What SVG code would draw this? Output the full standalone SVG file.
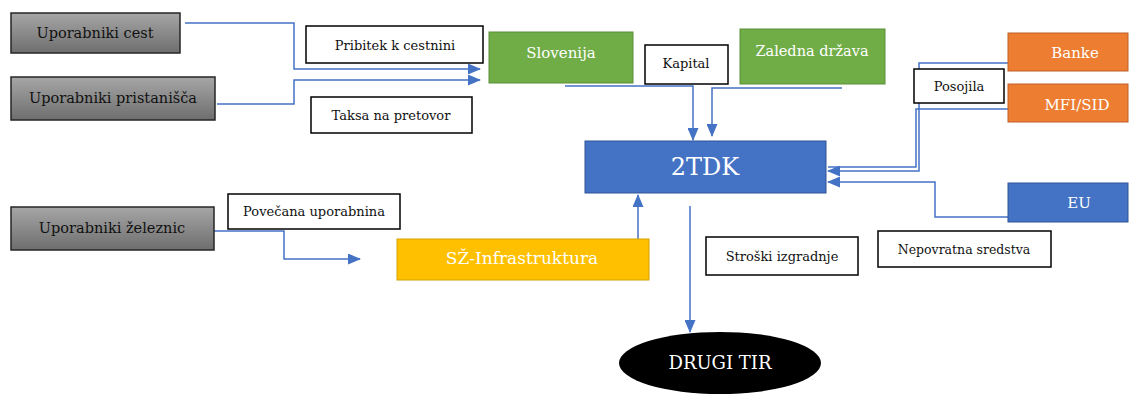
<svg xmlns="http://www.w3.org/2000/svg" width="1138" height="396" viewBox="0 0 1138 396">
<defs>
<linearGradient id="gray" x1="0" y1="0" x2="0" y2="1">
<stop offset="0" stop-color="#a6a6a6"/>
<stop offset="1" stop-color="#6e6e6e"/>
</linearGradient>
<marker id="arr" markerUnits="userSpaceOnUse" markerWidth="13" markerHeight="11" refX="12" refY="5.5" orient="auto">
<path d="M0,0 L13,5.5 L0,11 Z" fill="#4472C4"/>
</marker>
</defs>
<style>
.user{fill:url(#gray);stroke:#262626;stroke-width:1.5}
.lbl{fill:#fff;stroke:#000;stroke-width:1.5}
.green{fill:#70AD47;stroke:#5a8f38;stroke-width:1}
.orange{fill:#ED7D31;stroke:#c0612a;stroke-width:1}
.blue{fill:#4472C4;stroke:#2f5597;stroke-width:1}
.gold{fill:#FFC000;stroke:#d4a100;stroke-width:1}
text{font-family:"DejaVu Serif","Liberation Serif",serif;text-anchor:middle;dominant-baseline:central}
.t{font-size:13px;fill:#111}
.u{font-size:14.5px;fill:#111}
.w{font-size:15px;fill:#fff}
.c{fill:none;stroke:#4472C4;stroke-width:1.5}
</style>
<g id="connectors">
<polyline class="c" points="185,23 294,23 294,69 480,69" marker-end="url(#arr)"/>
<polyline class="c" points="217,104 294,104 294,80 480,80" marker-end="url(#arr)"/>
<polyline class="c" points="565,86 693,86 693,140" marker-end="url(#arr)"/>
<polyline class="c" points="842,88 712,88 712,136" marker-end="url(#arr)"/>
<polyline class="c" points="1012,63 919,63 919,171 828,171" marker-end="url(#arr)"/>
<polyline class="c" points="1012,109 916,109 916,167 828,167"/>
<polyline class="c" points="1008,217 935,217 935,182 828,182" marker-end="url(#arr)"/>
<polyline class="c" points="618,257 638,257 638,195" marker-end="url(#arr)"/>
<polyline class="c" points="690,206 690,332" marker-end="url(#arr)"/>
<polyline class="c" points="210,231 284,231 284,259 360,259" marker-end="url(#arr)"/>
</g>
<g id="uporabniki-cest"><rect class="user" x="11" y="13" width="169" height="40"/><text class="u" x="95" y="33">Uporabniki cest</text></g>
<g id="uporabniki-pristanisca"><rect class="user" x="11" y="77" width="204" height="43"/><text class="u" x="113" y="98">Uporabniki pristanišča</text></g>
<g id="uporabniki-zeleznic"><rect class="user" x="11" y="207" width="203" height="43"/><text class="u" x="112" y="228">Uporabniki železnic</text></g>
<g id="pribitek"><rect class="lbl" x="306" y="26" width="177" height="37"/><text class="t" x="395" y="45">Pribitek k cestnini</text></g>
<g id="taksa"><rect class="lbl" x="311" y="97" width="161" height="36"/><text class="t" x="391" y="115">Taksa na pretovor</text></g>
<g id="slovenija"><rect class="green" x="489" y="32" width="144" height="51"/><text class="w" x="561" y="53">Slovenija</text></g>
<g id="kapital"><rect class="lbl" x="645" y="45" width="83" height="39"/><text class="t" x="686" y="63">Kapital</text></g>
<g id="zaledna"><rect class="green" x="740" y="29" width="145" height="55"/><text class="w" x="812" y="51" style="font-size:14.5px">Zaledna država</text></g>
<g id="banke"><rect class="orange" x="1008" y="33" width="120" height="38"/><text class="w" x="1075" y="53">Banke</text></g>
<g id="mfi"><rect class="orange" x="1008" y="84" width="120" height="38"/><text class="w" x="1077" y="105">MFI/SID</text></g>
<g id="posojila"><rect class="lbl" x="914" y="69" width="90" height="34"/><text class="t" x="959" y="86">Posojila</text></g>
<g id="eu"><rect class="blue" x="1008" y="183" width="120" height="39"/><text class="w" x="1079" y="203">EU</text></g>
<g id="nepovratna"><rect class="lbl" x="878" y="231" width="173" height="36"/><text class="t" x="964" y="249" style="font-size:12.5px">Nepovratna sredstva</text></g>
<g id="tdk"><rect class="blue" x="585" y="141" width="241" height="52"/><text x="705" y="167" style="font-size:24px;fill:#fff">2TDK</text></g>
<g id="sz"><rect class="gold" x="397" y="239" width="252" height="41"/><text class="w" x="522" y="258" style="font-size:17px">SŽ-Infrastruktura</text></g>
<g id="povecana"><rect class="lbl" x="228" y="194" width="172" height="35"/><text class="t" x="314" y="211">Povečana uporabnina</text></g>
<g id="stroski"><rect class="lbl" x="706" y="237" width="152" height="38"/><text class="t" x="782" y="256">Stroški izgradnje</text></g>
<g id="drugi-tir"><ellipse cx="720" cy="363" rx="101" ry="31" fill="#000"/><text x="720" y="362" style="font-size:18px;fill:#fff">DRUGI TIR</text></g>
</svg>
